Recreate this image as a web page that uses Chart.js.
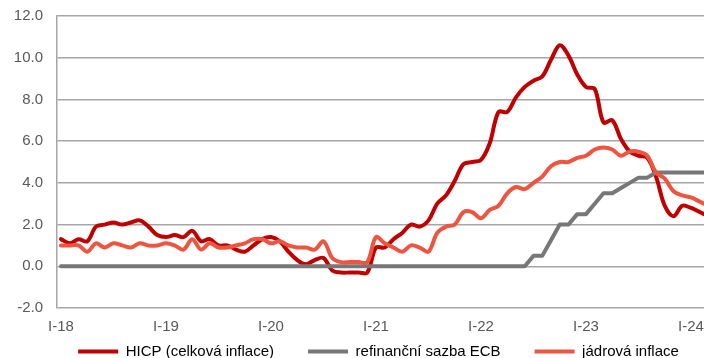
<!DOCTYPE html>
<html>
<head>
<meta charset="utf-8">
<script src="https://cdn.jsdelivr.net/npm/chart.js@4.4.1/dist/chart.umd.min.js"></script>
<style>
html, body { margin: 0; padding: 0; background: #fff; overflow: hidden; }
#wrap { width: 757px; height: 369px; }
</style>
</head>
<body>
<div id="wrap"><canvas id="inflace"></canvas></div>
<script>
// osa x: měsíce I-18 ... III-24
var roky = ['18', '19', '20', '21', '22', '23', '24'];
var mesice = ['I', 'II', 'III', 'IV', 'V', 'VI', 'VII', 'VIII', 'IX', 'X', 'XI', 'XII'];

// HICP, meziročně v %
var hicp = [
    1.3, 1.1, 1.3, 1.2, 1.9, 2.0, 2.1, 2.0, 2.1, 2.2, 1.9, 1.5,
    1.4, 1.5, 1.4, 1.7, 1.2, 1.3, 1.0, 1.0, 0.8, 0.7, 1.0, 1.3,
    1.4, 1.2, 0.7, 0.3, 0.1, 0.3, 0.4, -0.2, -0.3, -0.3, -0.3, -0.3,
    0.9, 0.9, 1.3, 1.6, 2.0, 1.9, 2.2, 3.0, 3.4, 4.1, 4.9, 5.0,
    5.1, 5.9, 7.4, 7.4, 8.1, 8.6, 8.9, 9.1, 9.9, 10.6, 10.1, 9.2,
    8.6, 8.5, 6.9, 7.0, 6.1, 5.5, 5.3, 5.2, 4.3, 2.9, 2.4, 2.9,
    2.8, 2.6, 2.4
];

// refinanční sazba ECB v %
var sazbaECB = [
    0, 0, 0, 0, 0, 0, 0, 0, 0, 0, 0, 0,
    0, 0, 0, 0, 0, 0, 0, 0, 0, 0, 0, 0,
    0, 0, 0, 0, 0, 0, 0, 0, 0, 0, 0, 0,
    0, 0, 0, 0, 0, 0, 0, 0, 0, 0, 0, 0,
    0, 0, 0, 0, 0, 0, 0.5, 0.5, 1.25, 2.0, 2.0, 2.5,
    2.5, 3.0, 3.5, 3.5, 3.75, 4.0, 4.25, 4.25, 4.5, 4.5, 4.5, 4.5,
    4.5, 4.5, 4.5
];

// jádrová inflace, meziročně v %
var jadrova = [
    1.0, 1.0, 1.0, 0.7, 1.1, 0.9, 1.1, 1.0, 0.9, 1.1, 1.0, 1.0,
    1.1, 1.0, 0.8, 1.3, 0.8, 1.1, 0.9, 0.9, 1.0, 1.1, 1.3, 1.3,
    1.1, 1.2, 1.0, 0.9, 0.9, 0.8, 1.2, 0.4, 0.2, 0.2, 0.2, 0.2,
    1.4, 1.1, 0.9, 0.7, 1.0, 0.9, 0.7, 1.6, 1.9, 2.0, 2.6, 2.6,
    2.3, 2.7, 2.9, 3.5, 3.8, 3.7, 4.0, 4.3, 4.8, 5.0, 5.0, 5.2,
    5.3, 5.6, 5.7, 5.6, 5.3, 5.5, 5.5, 5.3, 4.5, 4.2, 3.6, 3.4,
    3.3, 3.1, 2.9
];

var labels = [];
roky.forEach(function (r) {
    mesice.forEach(function (m) { labels.push(m + '-' + r); });
});

// popisky jen u ledna
var lednoveIndexy = [0, 12, 24, 36, 48, 60, 72];

// linearni osa x -> body {x: index mesice, y: hodnota}
function body(arr) {
    return arr.map(function (v, i) { return { x: i, y: v }; });
}

Chart.defaults.font.family = '"Liberation Sans", Arial, sans-serif';
Chart.defaults.font.size = 15;
Chart.defaults.color = '#595959';

var mesicPx = 8.75;
var xMin = -4 / mesicPx;
var xMax = xMin + (757 - 57) / mesicPx;

var ctx = document.getElementById('inflace');
var graf = new Chart(ctx, {
    type: 'line',
    data: {
        datasets: [
            {
                label: 'HICP (celková inflace)',
                data: body(hicp),
                borderColor: '#c00000',//tmave cervena
                borderWidth: 4,
                tension: 0.35,
                order: 3
            },
            {
                label: 'refinanční sazba ECB',
                data: body(sazbaECB),
                borderColor: '#777777',//seda
                borderWidth: 4,
                tension: 0,
                order: 2
            },
            {
                label: 'jádrová inflace',
                data: body(jadrova),
                borderColor: '#ee5540',//oranzova
                borderWidth: 4,
                tension: 0.35,
                order: 1
            }
        ]
    },
    options: {
        responsive: true,
        maintainAspectRatio: false,
        animation: false,
        elements: {
            point: { radius: 0 },
            line: { borderCapStyle: 'round', borderJoinStyle: 'round' }
        },
        layout: { padding: { top: 16, left: 0, right: 0, bottom: 0 } },
        scales: {
            x: {
                type: 'linear',
                min: xMin,
                max: xMax,
                grid: { display: false, drawTicks: false },
                border: { display: false },
                afterBuildTicks: function (s) {
                    s.ticks = lednoveIndexy.map(function (v) { return { value: v }; });
                },
                ticks: {
                    autoSkip: false,
                    maxRotation: 0,
                    padding: 10,
                    callback: function (v) { return labels[Math.round(v)]; }
                },
                // popisky presahuji do mista nad legendou, bez orezu
                afterFit: function (s) {
                    s.height = 2;
                    s._computeLabelArea = function () { return undefined; };
                }
            },
            y: {
                min: -2,
                max: 12,
                ticks: {
                    stepSize: 2,
                    padding: 14,
                    callback: function (v) { return v.toFixed(1); }
                },
                grid: { color: '#a6a6a6', lineWidth: 1.5, drawTicks: false },
                border: { color: '#a6a6a6', width: 1.5 },
                afterFit: function (s) {
                    s.width = 57;
                    s.paddingTop = 0;
                    s.paddingBottom = 0;
                }
            }
        },
        plugins: {
            tooltip: { enabled: false },
            legend: {
                position: 'bottom',
                labels: {
                    boxWidth: 40,
                    boxHeight: 4,
                    padding: 34,
                    color: '#595959',
                    font: { size: 15 },
                    generateLabels: function (chart) {
                        return chart.data.datasets.map(function (ds, i) {
                            return {
                                text: ds.label,
                                fillStyle: ds.borderColor,
                                strokeStyle: ds.borderColor,
                                lineWidth: 0,
                                datasetIndex: i,
                                hidden: false
                            };
                        });
                    }
                }
            }
        }
    }
});
</script>
</body>
</html>
